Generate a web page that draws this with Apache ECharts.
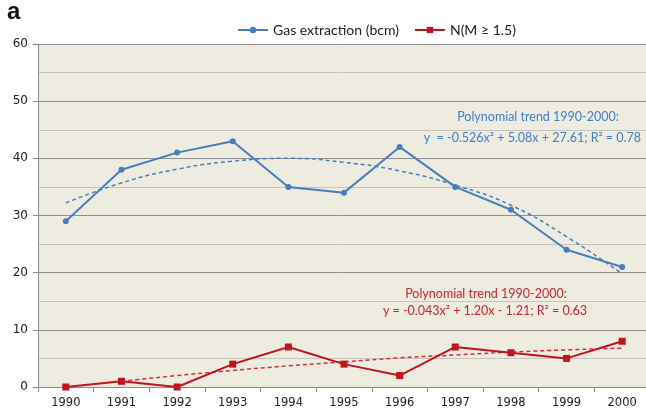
<!DOCTYPE html>
<html>
<head>
<meta charset="utf-8">
<script src="https://cdn.jsdelivr.net/npm/echarts@6/dist/echarts.min.js"></script>
<style>
  html, body { margin: 0; padding: 0; background: #fff; }
  #chart { width: 646px; height: 415px; }
</style>
</head>
<body>
<div id="chart"></div>
<script>
var years = ['1990', '1991', '1992', '1993', '1994', '1995', '1996', '1997', '1998', '1999', '2000'];
var gasExtraction = [29, 38, 41, 43, 35, 34, 42, 35, 31, 24, 21];
var quakeCount = [0, 1, 0, 4, 7, 4, 2, 7, 6, 5, 8];
// trend curves
var gasTrend = [32.2, 35.7, 38.1, 39.5, 40.0, 39.3, 37.8, 35.3, 31.8, 26.3, 19.8];
var quakeTrend = [null, 1.0, 2.0, 2.9, 3.7, 4.4, 5.1, 5.6, 6.1, 6.5, 6.8];
var yTicks = [0, 60, 10];

var blue = '#4A7EBB';
var red = '#C0141E';
var font = 'Lato, "Open Sans", sans-serif';

var myChart = echarts.init(document.getElementById('chart'));
var option = {
    backgroundColor: '#ffffff',
    animation: false,
    grid: {
        show: true,
        left: 38,
        top: 44,
        width: 612,
        height: 343,
        backgroundColor: '#EEECE1',
        borderWidth: 0,
        outerBoundsMode: 'none'
    },
    legend: {
        data: ['Gas extraction (bcm)', 'N(M \u2265 1.5)'],
        top: 18,
        left: 232,
        itemGap: 15,
        itemWidth: 30,
        itemHeight: 8,
        textStyle: { fontFamily: font, fontSize: 14, color: '#222' }
    },
    graphic: [
        { type: 'text', left: 7, top: 0, style: { text: 'a', font: 'bold 24px "Liberation Sans", Arial, sans-serif', fill: '#111' } },
        { type: 'text', x: 538, y: 110, style: { text: 'Polynomial trend 1990-2000:', font: '12.5px ' + font, fill: '#3F7FC4', align: 'center' } },
        { type: 'text', x: 641, y: 131, style: { text: 'y  = -0.526x\u00b2 + 5.08x + 27.61; R\u00b2 = 0.78', font: '12.5px ' + font, fill: '#3F7FC4', align: 'right' } },
        { type: 'text', x: 486, y: 287, style: { text: 'Polynomial trend 1990-2000:', font: '12.5px ' + font, fill: '#C8282E', align: 'center' } },
        { type: 'text', x: 485, y: 304, style: { text: 'y = -0.043x\u00b2 + 1.20x - 1.21; R\u00b2 = 0.63', font: '12.5px ' + font, fill: '#C8282E', align: 'center' } }
    ],
    xAxis: {
        type: 'category',
        data: years,
        boundaryGap: true,
        axisLine: { lineStyle: { color: '#8C8C8C', width: 1 } },
        axisTick: { show: true, interval: 0, length: 5, lineStyle: { color: '#8C8C8C' } },
        axisLabel: { fontFamily: '"DejaVu Sans", sans-serif', fontSize: 11.5, color: '#222', margin: 10, interval: 0 },
        splitLine: { show: false }
    },
    yAxis: {
        type: 'value',
        min: yTicks[0],
        max: yTicks[1],
        interval: yTicks[2],
        axisLine: { show: true, lineStyle: { color: '#8C8C8C', width: 1 } },
        axisTick: { show: true, length: 5, lineStyle: { color: '#8C8C8C' } },
        axisLabel: { fontFamily: '"DejaVu Sans", sans-serif', fontSize: 12, color: '#222', margin: 10 },
        splitLine: { show: true, lineStyle: { color: '#8F8F8F', width: 1 } },
        minorTick: { show: false, splitNumber: 2 },
        minorSplitLine: { show: true, lineStyle: { color: '#C6C4BC', width: 1 } }
    },
    series: [
        {
            name: 'Gas extraction (bcm)',
            type: 'line',
            data: gasExtraction,
            symbol: 'circle',
            symbolSize: 6,
            itemStyle: { color: blue },
            lineStyle: { color: blue, width: 2 },
            z: 5
        },
        {
            name: 'N(M \u2265 1.5)',
            type: 'line',
            data: quakeCount,
            symbol: 'rect',
            symbolSize: 7,
            itemStyle: { color: red },
            lineStyle: { color: red, width: 2 },
            z: 5
        },
        {
            name: 'gas trend',
            type: 'line',
            data: gasTrend,
            smooth: true,
            showSymbol: false,
            lineStyle: { color: blue, width: 1.5, type: [4, 3] },
            z: 3
        },
        {
            name: 'quake trend',
            type: 'line',
            data: quakeTrend,
            smooth: true,
            showSymbol: false,
            lineStyle: { color: '#D0303A', width: 1.5, type: [4, 3] },
            z: 3
        }
    ]
};
myChart.setOption(option);
</script>
</body>
</html>
